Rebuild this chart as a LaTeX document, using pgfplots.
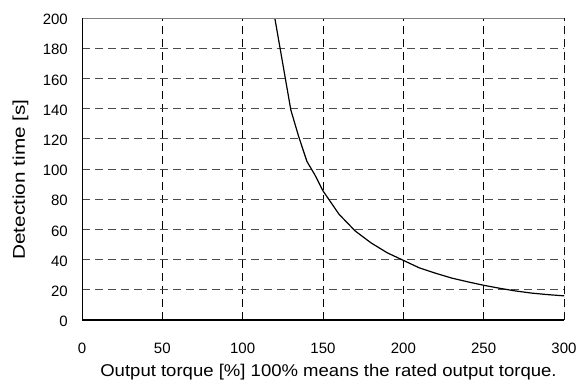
\documentclass[border=0pt]{standalone}
\usepackage{pgfplots}
\pgfplotsset{compat=1.18}
\usepackage{fontspec}
\setmainfont{Liberation Sans}
\begin{document}
\begin{tikzpicture}
\useasboundingbox (0,0) rectangle (581pt,381pt);
\begin{axis}[
  at={(82pt,61pt)}, anchor=south west,
  width=482pt, height=302pt, scale only axis,
  xmin=0, xmax=300, ymin=0, ymax=200,
  xtick={0,50,...,300}, ytick={0,20,...,200},
  major tick length=0pt,
  axis line style={draw=none},
  grid=major,
  x grid style={black, line width=0.8pt, dash pattern=on 8pt off 5pt},
  y grid style={black!70, line width=0.8pt, dash pattern=on 8pt off 5pt},
  /pgf/number format/assume math mode=true,
  ticklabel style={font=\fontsize{15}{15}\selectfont, inner sep=0pt},
  xticklabel style={anchor=base, yshift=-33pt},
  yticklabel style={anchor=east, xshift=-14pt, yshift=-1.5pt},
  xlabel={\scalebox{1.09}[1]{Output torque [\%] 100\% means the rated output torque.}},
  ylabel={\scalebox{1.22}[1]{Detection time [s]}},
  label style={font=\fontsize{17}{17}\selectfont, inner sep=0pt},
  xlabel style={at={(axis description cs:0.5,0)}, anchor=base, yshift=-56.7pt, xshift=5.5pt},
  ylabel style={at={(axis description cs:-0.1183,0.465)}, anchor=base, rotate=0},
  clip=true,
]
\addplot[black, line width=1.2pt, mark=none] coordinates {
(120,200) (130,139) (135,121) (140,105) (145,96) (150,85.5) (160,70) (170,59)
(180,51) (190,44.5) (200,39.5) (210,34.5) (220,31) (230,27.8) (240,25.3)
(250,23) (260,21) (270,19.2) (280,17.8) (290,16.8) (300,16)
};
\draw[black!50, line width=0.8pt] (rel axis cs:0,1) -- (rel axis cs:1,1) -- (rel axis cs:1,0);
\draw[black, line width=1.3pt] (rel axis cs:0,1) -- (rel axis cs:0,0) -- (rel axis cs:1,0);
\end{axis}
\end{tikzpicture}
\end{document}
